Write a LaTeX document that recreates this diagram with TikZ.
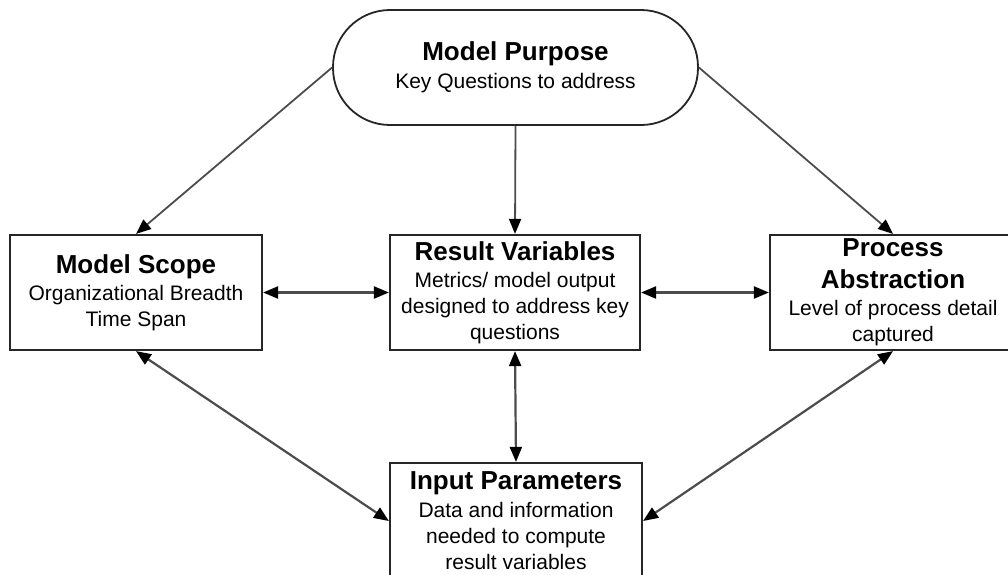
\documentclass[tikz,border=0pt]{standalone}
\usepackage{fontspec}
\setmainfont{Liberation Sans}
\usetikzlibrary{arrows.meta}

\newcommand\boxtitle[1]{{\fontsize{26}{30}\selectfont\bfseries #1}}

\tikzset{
  bodyfont/.style={font=\fontsize{21}{26}\selectfont},
  stagebox/.style={draw=black!85, line width=2.2pt, rectangle, inner sep=0pt,
    align=center, bodyfont, minimum height=115pt},
  purposebox/.style={stagebox, line width=1.8pt, rounded corners=57pt},
  conn/.style={draw=black!70, line width=1.8pt,
    -{Triangle[length=15pt,width=12pt,color=black]}},
  bothconn/.style={draw=black!70, line width=2.2pt,
    {Triangle[length=15pt,width=12pt,color=black]}-{Triangle[length=15pt,width=12pt,color=black]}}
}

\begin{document}
\begin{tikzpicture}[x=1pt,y=-1pt]
  \useasboundingbox (0,0) rectangle (1008,574);

  % purpose of the model
  \node[purposebox, minimum width=365pt] (mp) at (515.5,67.5)
    {\boxtitle{Model Purpose}\\[2pt]Key Questions to address};

  % middle row
  \node[stagebox, minimum width=252pt] (ms) at (136,292.5)
    {\boxtitle{Model Scope}\\[1pt]Organizational Breadth\\Time Span};
  \node[stagebox, minimum width=250pt] (rv) at (515,292.5)
    {\boxtitle{Result Variables}\\[1pt]Metrics/ model output\\designed to address key\\questions};
  \node[stagebox, minimum width=246pt] (pa) at (893,292.5)
    {\boxtitle{Process}\\[6pt]\boxtitle{Abstraction}\\[1pt]Level of process detail\\captured};

  % inputs
  \node[stagebox, minimum width=252pt, minimum height=116pt] (ip) at (516,521)
    {\boxtitle{Input Parameters}\\[2pt]Data and information\\needed to compute\\result variables};

  % purpose drives the three aspects
  \draw[conn] (mp.west) -- (ms.north);
  \draw[conn] (mp.south) -- (rv.north);
  \draw[conn] (mp.east) -- (pa.north);

  % mutual dependencies
  \draw[bothconn] (ms.east) -- (rv.west);
  \draw[bothconn] (rv.east) -- (pa.west);
  \draw[bothconn] (rv.south) -- (ip.north);
  \draw[bothconn] (ms.south) -- (ip.west);
  \draw[bothconn] (pa.south) -- (ip.east);
\end{tikzpicture}
\end{document}
